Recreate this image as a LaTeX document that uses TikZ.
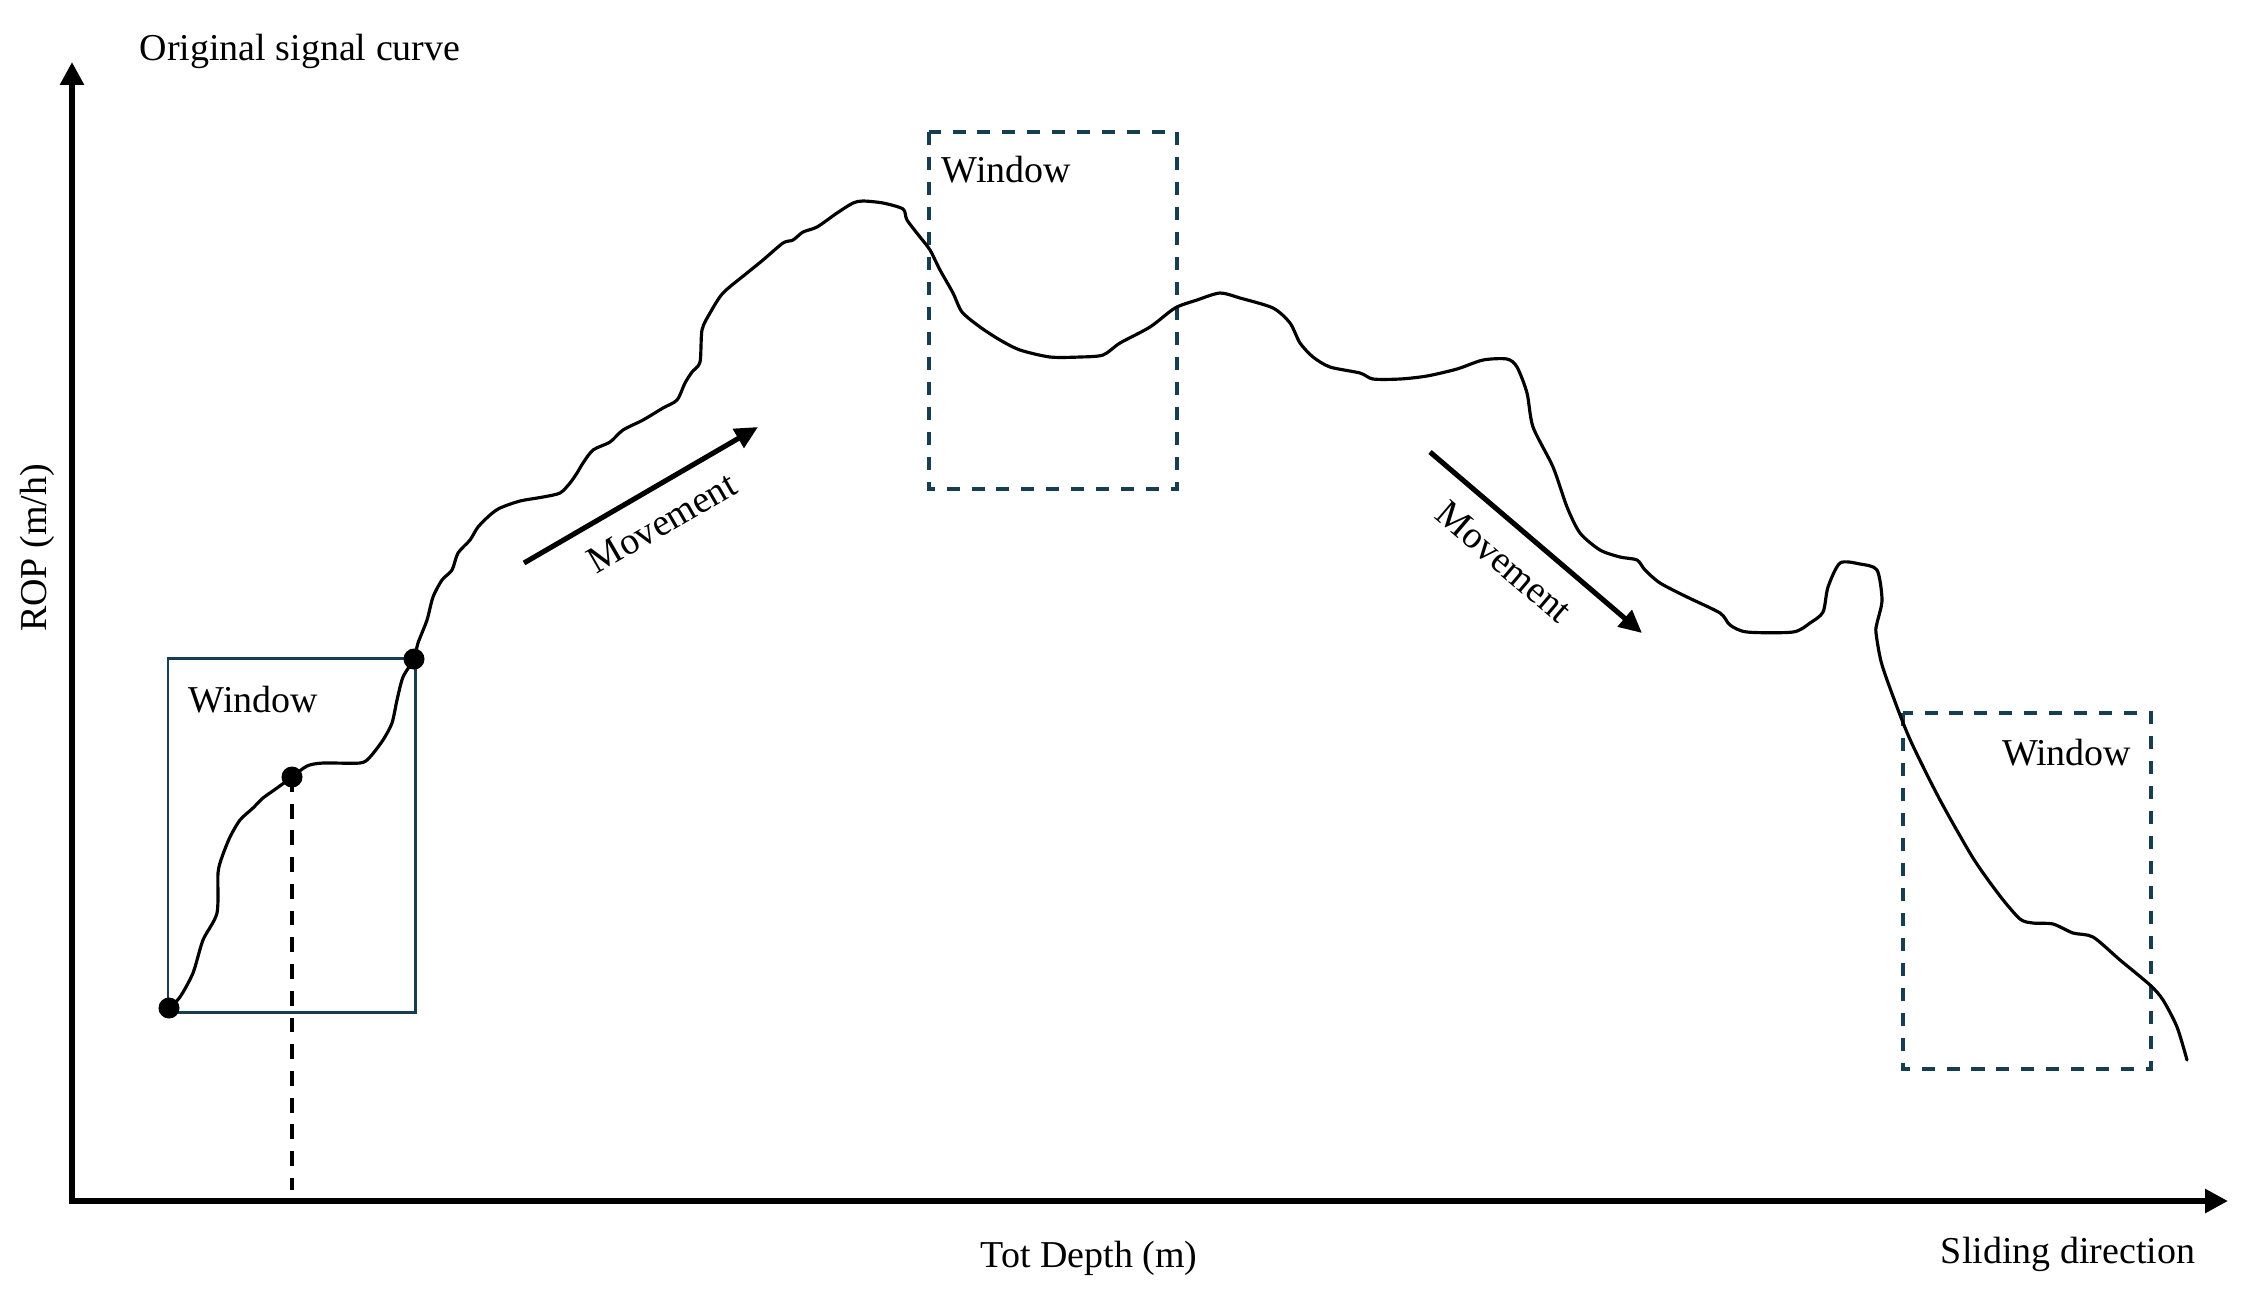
\documentclass[tikz,border=0pt]{standalone}
\usepackage{fontspec}
\setmainfont{Liberation Serif}
\usetikzlibrary{arrows.meta}
\definecolor{wincol}{RGB}{22,62,80}
\begin{document}
\begin{tikzpicture}[x=0.01cm, y=-0.01cm,
  lbl/.style={font=\fontsize{10.8}{13}\selectfont, inner sep=0pt},
  axisline/.style={line width=1.7pt, line join=miter,
    {Triangle[length=6.5pt,width=6.5pt]}-{Triangle[length=6.5pt,width=6.5pt]}},
  mvarrow/.style={line width=1.45pt, -{Triangle[length=6.5pt,width=6pt]}},
  winsolid/.style={draw=wincol, line width=0.85pt},
  windash/.style={draw=wincol, line width=1.1pt, dash pattern=on 3.7pt off 3.4pt},
  sigcurve/.style={line width=0.9pt, line join=round, line cap=round},
  dropline/.style={line width=0.95pt, dash pattern=on 4.2pt off 3.4pt},
  dotnode/.style={circle, fill=black, inner sep=0pt, minimum size=0.21cm}]
\useasboundingbox (0,0) rectangle (2255,1302);

% axes
\coordinate (O) at (72,1201);
\coordinate (ytip) at (72,62);
\coordinate (xtip) at (2228,1201);
\draw[axisline] (ytip) |- (xtip);

% windows
\coordinate (w1a) at (168,658);  \coordinate (w1b) at (415,1012);
\coordinate (w2a) at (929,132);  \coordinate (w2b) at (1177,489);
\coordinate (w3a) at (1903,713); \coordinate (w3b) at (2151,1069);
\draw[winsolid] (w1a) rectangle (w1b);
\draw[windash] (w2a) rectangle (w2b);
\draw[windash] (w3a) rectangle (w3b);

% signal curve
\draw[sigcurve] plot[smooth, tension=0.45] coordinates {
(169,1008) (180,997) (193,973) (203,940) (217,913) (218,873) (222,857) (230,837)
(240,820) (253,808) (263,798) (277,788) (292,777) (307,766) (323,763) (360,763)
(370,757) (383,740) (392,723) (397,700) (403,677) (414,659) (418,643) (427,620)
(433,597) (442,580) (452,570) (458,553) (470,540) (478,527) (490,515) (500,508)
(520,501) (543,497) (560,493) (570,483) (577,473) (583,463) (593,450) (610,442)
(623,430) (643,420) (663,408) (677,400) (685,383) (692,372) (700,362) (702,330)
(710,313) (723,293) (747,273) (763,260) (783,243) (793,240) (803,232) (817,227)
(837,213) (853,203) (863,201) (883,203) (903,209) (907,220) (920,237) (930,250)
(940,270) (953,293) (962,312) (980,327) (1000,340) (1020,350) (1050,357) (1080,357)
(1103,355) (1120,343) (1150,327) (1175,308) (1197,300) (1220,293) (1240,298)
(1273,308) (1290,323) (1300,343) (1313,357) (1330,367) (1360,373) (1373,379)
(1400,379) (1427,376) (1457,369) (1483,360) (1507,359) (1517,367) (1527,393)
(1533,427) (1553,467) (1567,507) (1580,533) (1600,550) (1620,557) (1637,560)
(1645,570) (1660,583) (1687,597) (1720,613) (1730,625) (1747,632) (1793,632)
(1810,623) (1823,612) (1828,587) (1840,563) (1860,564) (1877,570) (1882,600)
(1877,623) (1876,633) (1882,665) (1900,715) (1913,746) (1940,800) (1973,858)
(2000,896) (2020,919) (2033,923) (2053,924) (2073,933) (2093,937) (2120,960)
(2150,985) (2163,1000) (2177,1027) (2187,1060)};

% dots and drop line
\node[dotnode] (d1) at (169,1008) {};
\node[dotnode] (d2) at (292,777) {};
\node[dotnode] (d3) at (414,659) {};
\coordinate (d2foot) at (292,1190);
\draw[dropline] (d2.center) -- (d2foot);

% movement arrows
\coordinate (m1a) at (524,563); \coordinate (m1b) at (758,427);
\coordinate (m2a) at (1430,452); \coordinate (m2b) at (1642,633);
\draw[mvarrow] (m1a) -- (m1b);
\draw[mvarrow] (m2a) -- (m2b);
\node[lbl, rotate=30] (mv1) at (662,523) {Movement};
\node[lbl, rotate=-40.5] (mv2) at (1504,562) {Movement};

% labels
\node[lbl, anchor=base west] (title) at (139,60) {Original signal curve};
\node[lbl, rotate=90, anchor=base] (ylab) at (47,548) {ROP (m/h)};
\node[lbl, anchor=base] (xlab) at (1089,1267) {Tot Depth (m)};
\node[lbl, anchor=base] (slide) at (2068,1263) {Sliding direction};
\node[lbl, anchor=base west] (w1t) at (188,712) {Window};
\node[lbl, anchor=base west] (w2t) at (941,182) {Window};
\node[lbl, anchor=base east] (w3t) at (2132,765) {Window};
\end{tikzpicture}
\end{document}
